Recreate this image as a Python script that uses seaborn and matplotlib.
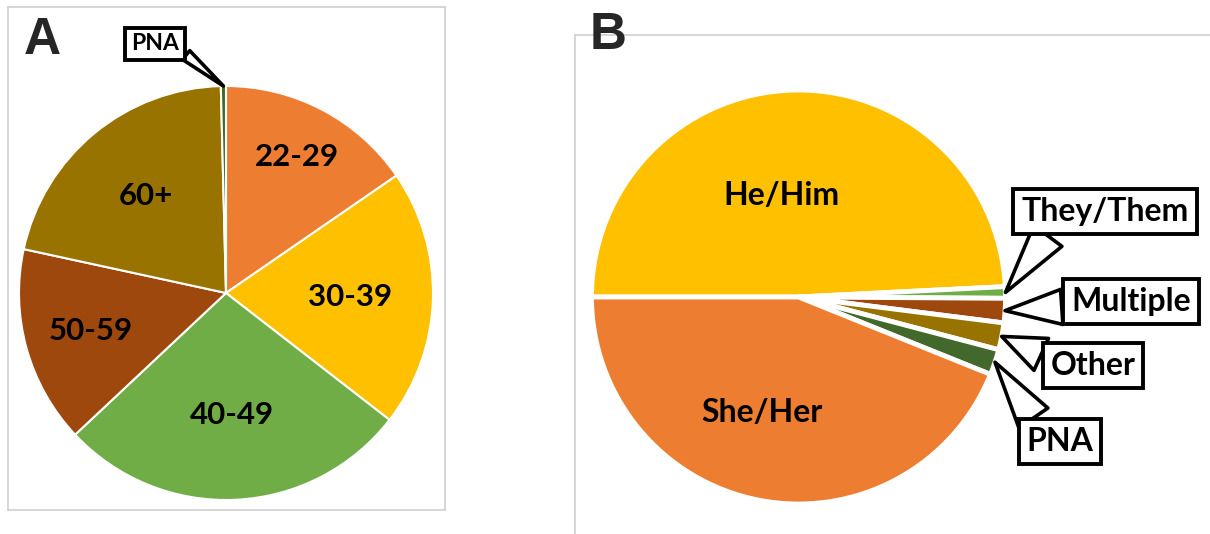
import seaborn as sns
import matplotlib.pyplot as plt
import numpy as np

# panel A: age groups (% of respondents)
age_groups = ["22-29", "30-39", "40-49", "50-59", "60+", "PNA"]
age_share = [15.4, 20.1, 27.5, 15.4, 21.2, 0.4]

# panel B: pronouns (% of respondents)
pronouns = ["He/Him", "They/Them", "Multiple", "Other", "PNA", "She/Her"]
pronoun_share = [49.2, 0.9, 1.9, 2.1, 2.0, 43.9]

orange, yellow, green = "#ED7D31", "#FFC000", "#70AD47"
rust, olive, dkgreen = "#9E480E", "#997300", "#43682B"

sns.set_theme(style="white")
plt.rcParams["font.family"] = ["Lato", "DejaVu Sans"]

W, H, R = 1210, 534, 207
fig = plt.figure(figsize=(W / 100, H / 100), dpi=100)


def panel(box, center):
    x0, y0, x1, y1 = box
    cx, cy = center
    ax = fig.add_axes([x0 / W, 1 - y1 / H, (x1 - x0) / W, (y1 - y0) / H])
    return ax, ((x0 - cx) / R, (x1 - cx) / R), ((cy - y1) / R, (cy - y0) / R)


def finish(ax, xl, yl):
    ax.set_xlim(*xl)
    ax.set_ylim(*yl)
    ax.set_xticks([])
    ax.set_yticks([])
    for s in ax.spines.values():
        s.set_visible(True)
        s.set_color("#d0d0d0")
        s.set_linewidth(1.2)


def mid(w):
    a = np.deg2rad((w.theta1 + w.theta2) / 2)
    return np.cos(a), np.sin(a)


def callout(ax, w, text, xytext, size, rel, tw=1.1):
    ax.annotate(text, xy=mid(w), xytext=xytext, ha="center", va="center",
                fontsize=size, fontweight="bold", color="black",
                bbox=dict(boxstyle="square,pad=0.25", fc="white", ec="black", lw=2.8),
                arrowprops=dict(arrowstyle=f"wedge,tail_width={tw},shrink_factor=0.5",
                                fc="white", ec="black", lw=2.6, relpos=rel,
                                shrinkA=0, shrinkB=0))


# ---- A ----
axA, xlA, ylA = panel((8, 7, 445, 510), (226, 293))
wA, _ = axA.pie(age_share, colors=[orange, yellow, green, rust, olive, dkgreen],
                startangle=90, counterclock=False, frame=True,
                wedgeprops=dict(edgecolor="white", linewidth=1.5))
finish(axA, xlA, ylA)
for w, lab, rr in zip(wA[:5], age_groups[:5], [0.74, 0.60, 0.59, 0.68, 0.61]):
    x, y = mid(w)
    axA.text(rr * x, rr * y, lab, ha="center", va="center",
             fontsize=22.5, fontweight="bold", color="black")
callout(axA, wA[5], age_groups[5], (-0.343, 1.203), 16.5, (0.95, 0.35), tw=0.5)

# ---- B ----
axB, xlB, ylB = panel((575, 35, 1210, 534), (798.5, 297))
wB, _ = axB.pie(pronoun_share, colors=[yellow, green, rust, olive, dkgreen, orange],
                startangle=180, counterclock=False, frame=True,
                wedgeprops=dict(edgecolor="white", linewidth=3.5))
finish(axB, xlB, ylB)
axB.spines["right"].set_visible(False)
axB.spines["bottom"].set_visible(False)
for i, rr in [(0, 0.49), (5, 0.57)]:
    x, y = mid(wB[i])
    axB.text(rr * x - 0.07, rr * y, pronouns[i], ha="center", va="center",
             fontsize=23, fontweight="bold", color="black")
callout(axB, wB[1], pronouns[1], (1.481, 0.411), 23, (0.2, 0.0))
callout(axB, wB[2], pronouns[2], (1.606, -0.024), 23, (0.0, 0.35))
callout(axB, wB[3], pronouns[3], (1.423, -0.333), 23, (0.0, 0.75))
callout(axB, wB[4], pronouns[4], (1.263, -0.700), 23, (0.2, 1.0))

fig.text(42 / W, 1 - 40 / H, "A", ha="center", va="center", fontsize=37,
         fontweight="bold", family=["Liberation Sans", "DejaVu Sans"])
fig.text(608 / W, 1 - 36 / H, "B", ha="center", va="center", fontsize=37,
         fontweight="bold", family=["Liberation Sans", "DejaVu Sans"])

fig.savefig("out.png", dpi=100, facecolor="white")
